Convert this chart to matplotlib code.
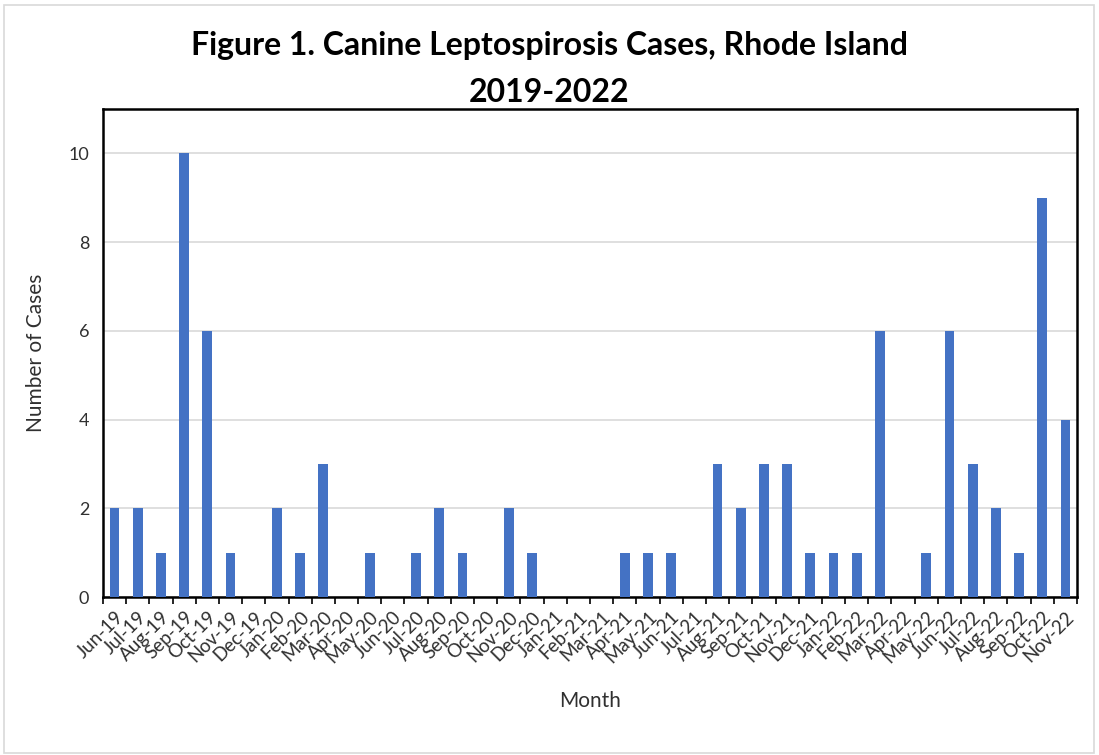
import numpy as np
import matplotlib.pyplot as plt
from matplotlib.patches import Rectangle

plt.rcParams['font.family'] = ['Lato', 'DejaVu Sans']

# Monthly case counts, Jun-2019 .. Nov-2022
months = ['Jun-19', 'Jul-19', 'Aug-19', 'Sep-19', 'Oct-19', 'Nov-19', 'Dec-19',
          'Jan-20', 'Feb-20', 'Mar-20', 'Apr-20', 'May-20', 'Jun-20', 'Jul-20',
          'Aug-20', 'Sep-20', 'Oct-20', 'Nov-20', 'Dec-20', 'Jan-21', 'Feb-21',
          'Mar-21', 'Apr-21', 'May-21', 'Jun-21', 'Jul-21', 'Aug-21', 'Sep-21',
          'Oct-21', 'Nov-21', 'Dec-21', 'Jan-22', 'Feb-22', 'Mar-22', 'Apr-22',
          'May-22', 'Jun-22', 'Jul-22', 'Aug-22', 'Sep-22', 'Oct-22', 'Nov-22']
cases = [2, 2, 1, 10, 6, 1, 0,
         2, 1, 3, 0, 1, 0, 1,
         2, 1, 0, 2, 1, 0, 0,
         0, 1, 1, 1, 0, 3, 2,
         3, 3, 1, 1, 1, 6, 0,
         1, 6, 3, 2, 1, 9, 4]

bar_color = '#4472C4'
text_color = '#303030'

fig = plt.figure(figsize=(10.99, 7.55), dpi=100)
ax = fig.add_axes([103 / 1099, 1 - 597 / 755, (1077 - 103) / 1099, (597 - 109) / 755])

# chart-area border
fig.patches.append(Rectangle((4 / 1099, 2 / 755), 1090 / 1099, 748 / 755,
                             transform=fig.transFigure, fill=False,
                             edgecolor='#d9d9d9', linewidth=1.2))

x = np.arange(len(months))
ax.bar(x, cases, width=0.42, color=bar_color, zorder=3)

ax.set_xlim(-0.5, len(months) - 0.5)
ax.set_ylim(0, 11)
ax.set_yticks(range(0, 11, 2))
ax.yaxis.grid(True, color='#d9d9d9', linewidth=1.2, zorder=0)
ax.tick_params(axis='y', length=0, labelsize=13, labelcolor=text_color, pad=10)

ax.set_xticks(x)
ax.set_xticklabels(months, rotation=45, ha='right', rotation_mode='anchor',
                   fontsize=13.5, color=text_color)
ax.tick_params(axis='x', length=0, pad=8)
ax.set_xticks(np.arange(-0.5, len(months), 1), minor=True)
ax.tick_params(axis='x', which='minor', length=5, width=1.2, color='black')

for s in ax.spines.values():
    s.set_color('black')
    s.set_linewidth(1.8)

ax.set_xlabel('Month', fontsize=15, color=text_color, labelpad=18)
ax.set_ylabel('Number of Cases', fontsize=15, color=text_color, labelpad=16)

fig.text(0.5, 1 - 45 / 755, 'Figure 1. Canine Leptospirosis Cases, Rhode Island',
         ha='center', va='center', fontsize=23, fontweight='bold', color='black')
fig.text(0.5, 1 - 92 / 755, '2019-2022',
         ha='center', va='center', fontsize=23, fontweight='bold', color='black')

fig.savefig('out.png', dpi=100)
